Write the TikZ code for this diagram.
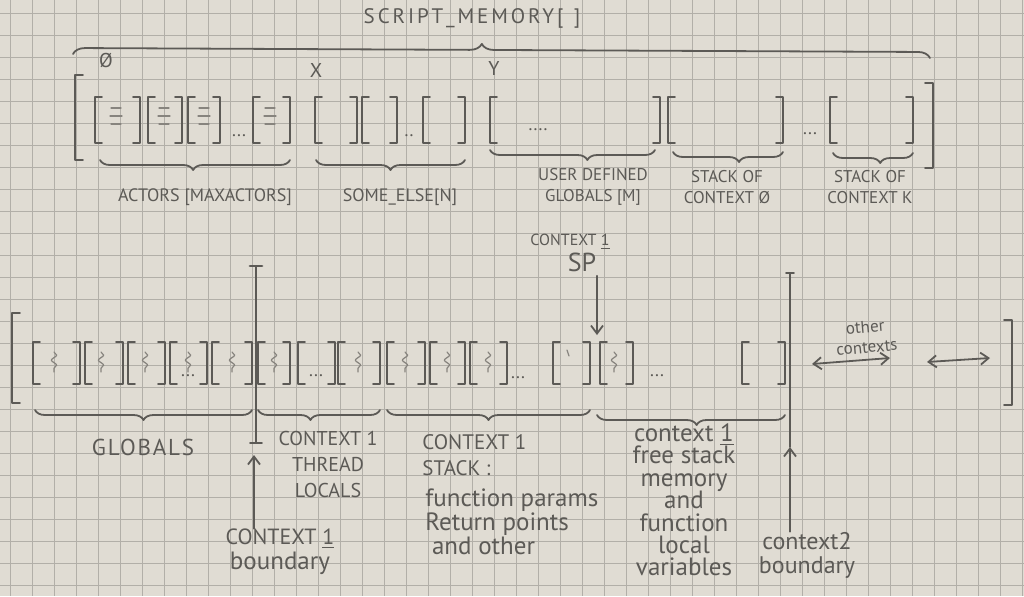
\documentclass[tikz,border=0pt]{standalone}
\usepackage{fontspec}
\setmainfont{PT Sans}
\usetikzlibrary{decorations.pathreplacing,decorations.pathmorphing,arrows.meta}
\definecolor{paper}{RGB}{224,220,211}
\definecolor{gridc}{RGB}{178,175,168}
\definecolor{pencil}{RGB}{92,90,86}
\definecolor{pencillight}{RGB}{135,132,126}
\newcommand\cellbr[4]{%
  \draw[pencilline] (#1+7,#3) -- (#1,#3) -- (#1,#4) -- (#1+7,#4)
                    (#2-7,#3) -- (#2,#3) -- (#2,#4) -- (#2-7,#4);}
\newcommand\squig[1]{%
  \draw[thinpen, decorate, decoration={snake, amplitude=1.3pt, segment length=5pt}] (#1,352) -- (#1,372);}
\newcommand\tightlines{\lineskiplimit=-20pt\relax}
\begin{document}
\begin{tikzpicture}[x=0.5pt,y=-0.5pt,
  pencilline/.style={draw=pencil, line width=0.9pt, line cap=round, line join=round},
  thinpen/.style={draw=pencillight, line width=0.6pt, line cap=round},
  gridline/.style={draw=gridc, line width=0.45pt},
  curly/.style={pencilline, decorate, decoration={brace, amplitude=#1}},
  curly/.default=5pt,
  curlyd/.style={pencilline, decorate, decoration={brace, mirror, amplitude=#1}},
  curlyd/.default=5pt,
  lbl/.style={text=pencil, inner sep=0pt, font=\fontsize{9}{11}\selectfont},
  arr/.style={pencilline, -{Straight Barb[length=4pt,width=6pt]}},
  darr/.style={pencilline, {Straight Barb[length=4pt,width=6pt]}-{Straight Barb[length=4pt,width=6pt]}}
]
\fill[paper] (0,0) rectangle (1024,596);
\useasboundingbox (0,0) rectangle (1024,596);
\foreach \i in {0,...,46} \draw[gridline] (10+22*\i,0) -- (10+22*\i,596);
\foreach \j in {0,...,27} \draw[gridline] (0,13+22*\j) -- (1024,13+22*\j);

% ---------------- top: SCRIPT_MEMORY ----------------
\node[lbl, font=\fontsize{10.5}{12}\selectfont\addfontfeature{LetterSpace=14}] (title) at (472,18) {SCRIPT\_MEMORY[\,\,\,]};
\draw[curly=6pt, decoration={aspect=0.477}] (73,54) -- (930,58);
\node[lbl, font=\fontsize{10}{12}\selectfont] (zero) at (106,60) {Ø};
\node[lbl, font=\fontsize{10}{12}\selectfont] (xlbl) at (316,70) {X};
\node[lbl, font=\fontsize{10}{12}\selectfont] (ylbl) at (494,68) {Y};

\draw[pencilline] (83,75) -- (75,75) -- (75,160) -- (83,160);
\draw[pencilline] (925,83) -- (933,83) -- (933,168) -- (925,168);

\foreach \a/\b in {95/140,148/182,188/220,253/290,315/357,362/397,423/465,490/660,668/783,830/913}
  \cellbr{\a}{\b}{97}{143};
\foreach \c in {116,164,204,270}
  \draw[thinpen] (\c-5,108) -- (\c+5,108) (\c-6,116) -- (\c+6,116) (\c-5,124) -- (\c+5,124);
\node[lbl] (dA) at (239,136) {...};
\node[lbl] (dB) at (409,136) {..};
\node[lbl] (dC) at (538,130) {....};
\node[lbl] (dD) at (810,134) {...};

\draw[curlyd=5pt, decoration={aspect=0.49}] (100,160) -- (290,160);
\draw[curlyd=5pt, decoration={aspect=0.5}] (316,160) -- (465,160);
\draw[curlyd=5pt, decoration={aspect=0.59}] (490,150) -- (655,150);
\draw[curlyd=5pt, decoration={aspect=0.6}] (673,152) -- (783,152);
\draw[curlyd=5pt, decoration={aspect=0.59}] (833,153) -- (913,153);

\node[lbl] (actors) at (205,197) {ACTORS [MAXACTORS]};
\node[lbl] (someelse) at (400,197) {SOME\_ELSE[N]};
\node[lbl, align=center, font=\fontsize{8.5}{10.5}\selectfont] (userg) at (593,187) {USER DEFINED\\GLOBALS [M]};
\node[lbl, align=center, font=\fontsize{8.5}{10.5}\selectfont] (stk0) at (727,187) {STACK OF\\CONTEXT Ø};
\node[lbl, align=center, font=\fontsize{8.5}{10.5}\selectfont] (stkk) at (870,187) {STACK OF\\CONTEXT K};

% ---------------- bottom: memory layout ----------------
\draw[pencilline] (20,313) -- (12,313) -- (12,403) -- (20,403);
\draw[pencilline] (1004,320) -- (1012,320) -- (1012,405) -- (1004,405);

\foreach \a/\b in {33/80,85/123,128/165,170/207,212/252,258/290,298/335,338/380,387/425,430/465,470/507,553/590,600/633,742/785}
  \cellbr{\a}{\b}{342}{384};
\foreach \c in {54,101,145,188,232,274,358,405,447,488,614} \squig{\c};
\draw[thinpen] (567,350) -- (569,356);
\node[lbl] (dE) at (188,376) {...};
\node[lbl] (dF) at (316,376) {...};
\node[lbl] (dG) at (518,378) {...};
\node[lbl] (dH) at (657,376) {...};

% boundaries
\draw[pencilline] (256,266) -- (256,443);
\draw[pencilline, line width=1.4pt] (250,266) -- (262,266);
\draw[pencilline] (250,443) -- (262,443);
\draw[pencilline] (790,273) -- (790,447);
\draw[pencilline] (786,273) -- (794,273);

\draw[curlyd=5pt, decoration={aspect=0.5}] (35,410) -- (252,410);
\draw[curlyd=5pt, decoration={aspect=0.43}] (258,410) -- (380,410);
\draw[curlyd=5pt, decoration={aspect=0.5}] (387,410) -- (590,410);
\draw[curlyd=5pt, decoration={aspect=0.53}] (597,415) -- (785,415);

\node[lbl, font=\fontsize{11.5}{12}\selectfont\addfontfeature{LetterSpace=8}] (glob) at (143,447) {GLOBALS};
\node[lbl, align=center, font=\fontsize{10}{13}\selectfont] (thr) at (328,464) {CONTEXT 1\\THREAD\\LOCALS};
\node[lbl, align=left, anchor=west, font=\fontsize{10.5}{13}\selectfont] (cstk) at (422,455) {CONTEXT 1\\STACK :};
\node[lbl, align=left, anchor=west, font=\fontsize{12.5}{12}\selectfont] (cfun) at (425,522) {function params\\Return points\\\ and other};
\node[lbl, align=center, font=\fontsize{12.5}{11.2}\selectfont\tightlines] (cfree) at (684,500) {context \underline{1}\\free stack\\memory\\and\\function\\local\\variables};
\node[lbl, align=center, font=\fontsize{11}{12.5}\selectfont\tightlines] (b1lab) at (280,552) {CONTEXT \underline{1}\\\fontsize{12.5}{12.5}\selectfont boundary};
\node[lbl, align=center, font=\fontsize{12}{12}\selectfont\tightlines] (b2lab) at (807,555) {context2\\boundary};
\node[lbl, font=\fontsize{8}{10}\selectfont] (sp1) at (570,242) {CONTEXT \underline{1}};
\node[lbl, font=\fontsize{13}{15}\selectfont] (sp) at (582,262) {SP};
\node[lbl, align=center, rotate=5, font=\fontsize{8.5}{10}\selectfont] (oc) at (866,337) {other\\contexts};

\coordinate (sptip) at (597,335);
\draw[arr] (sp.south -| sptip) ++(0,4) -- (sptip);
\coordinate (b1tip) at (254,455);
\draw[arr] (b1lab.north -| b1tip) -- (b1tip);
\coordinate (b2tip) at (790,447);
\draw[arr] (b2lab.north -| b2tip) -- (b2tip);
\coordinate (o1a) at (812,364);
\coordinate (o1b) at (890,358);
\draw[darr] (o1a) -- (o1b);
\coordinate (o2a) at (927,362);
\coordinate (o2b) at (990,358);
\draw[darr] (o2a) -- (o2b);
\end{tikzpicture}
\end{document}
